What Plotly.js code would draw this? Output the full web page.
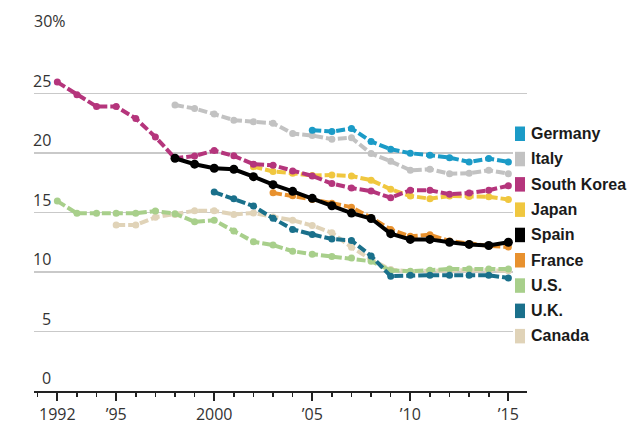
<!DOCTYPE html>
<html>
<head>
<meta charset="utf-8">
<script src="https://cdn.plot.ly/plotly-3.0.1.min.js"></script>
<style>html,body{margin:0;padding:0;background:#fff;}#chart{width:633px;height:446px;}</style>
</head>
<body>
<div id="chart"></div>
<script>
// ---- Data (% ) ----
const years = [1992,1993,1994,1995,1996,1997,1998,1999,2000,2001,2002,2003,2004,2005,2006,2007,2008,2009,2010,2011,2012,2013,2014,2015];

const southKoreaYears = years;
const southKorea = [25.96,24.9,23.9,23.9,22.9,21.35,19.56,19.75,20.2,19.76,19.06,18.97,18.49,18.07,17.43,17.05,16.8,16.24,16.87,16.87,16.53,16.64,16.87,17.25];

const spainYears = years.slice(6);
const spain = [19.56,19.06,18.72,18.63,18.01,17.34,16.78,16.19,15.57,14.95,14.5,13.22,12.74,12.74,12.5,12.32,12.23,12.5];

const franceYears = years.slice(11);
const france = [16.65,16.4,16.1,15.78,15.45,14.56,13.58,13.0,13.13,12.6,12.37,12.2,12.1];

const japanYears = years.slice(10);
const japan = [18.85,18.45,18.3,18.1,18.15,18.06,17.72,16.95,16.39,16.16,16.39,16.35,16.32,16.1];

const italyYears = years.slice(6);
const italy = [24.03,23.74,23.27,22.76,22.62,22.51,21.63,21.47,21.16,21.28,19.95,19.3,18.55,18.63,18.26,18.3,18.55,18.26];

const germanyYears = years.slice(13);
const germany = [21.92,21.8,22.06,20.96,20.32,19.98,19.81,19.61,19.25,19.53,19.25];

const ukYears = years.slice(8);
const uk = [16.72,16.16,15.54,14.51,13.58,13.16,12.77,12.65,11.35,9.65,9.73,9.73,9.73,9.73,9.73,9.5];

const usYears = years;
const us = [15.96,14.93,14.93,14.93,14.93,15.12,14.9,14.22,14.34,13.44,12.54,12.26,11.75,11.5,11.3,11.17,10.9,10.13,10.07,10.15,10.26,10.26,10.26,10.26];

const canadaYears = years.slice(3);
const canada = [13.94,13.94,14.6,14.84,15.15,15.15,14.84,14.95,14.62,14.35,13.9,13.3,12.08,11.05,10.2,10.05,10.1,10.15,10.15,10.15,10.1];

const xTickVals = [1992,1995,2000,2005,2010,2015];
const xTickText = ['1992','\u201995','2000','\u201905','\u201910','\u201915'];
const yTickVals = [0,5,10,15,20,25,30];
const yTickText = ['0','5','10','15','20','25','30%'];

const legendNames = ['Germany','Italy','South Korea','Japan','Spain','France','U.S.','U.K.','Canada'];
const colors = {
  'Germany':'#1b9bc7','Italy':'#c2c2c2','South Korea':'#b5357c','Japan':'#f0c73f',
  'Spain':'#000000','France':'#e8912e','U.S.':'#a8cf8b','U.K.':'#1a708b','Canada':'#e0d3b8'
};

// ---- Traces ----
function series(name, xs, ys, solid){
  return {
    type:'scatter', mode:'lines+markers', name:name, x:xs, y:ys,
    line:{color:colors[name], width:4, dash: solid ? 'solid' : '9px,3px'},
    marker:{color:colors[name], size: solid ? 9 : 7},
    hoverinfo:'skip', showlegend:false, cliponaxis:false
  };
}
const data = [
  series('Canada', canadaYears, canada),
  series('U.S.', usYears, us),
  series('U.K.', ukYears, uk),
  series('Italy', italyYears, italy),
  series('Germany', germanyYears, germany),
  series('Japan', japanYears, japan),
  series('France', franceYears, france),
  series('South Korea', southKoreaYears, southKorea),
  series('Spain', spainYears, spain, true)
];

// ---- Layout helpers (pixel -> paper) ----
const W = 633, H = 446, ML = 34, MR = 106, MT = 34, MB = 55;
const PW = W - ML - MR, PH = H - MT - MB;
const px = v => (v - ML) / PW;
const py = v => (H - MB - v) / PH;

const annotations = [];
yTickVals.forEach((v, i) => {
  const isTop = i === yTickVals.length - 1;
  annotations.push({
    xref:'paper', yref:'y', x: isTop ? px(32) : px(53), y: v,
    xanchor: isTop ? 'left' : 'right', yanchor:'bottom',
    text: yTickText[i], showarrow:false,
    font:{family:'Open Sans, sans-serif', size:16, color:'#333'}
  });
});

const shapes = [{
  type:'rect', xref:'paper', yref:'paper', layer:'above',
  x0:px(513), x1:px(633), y0:py(120), y1:py(348),
  fillcolor:'#ffffff', line:{width:0}
}];

legendNames.forEach((n, i) => {
  const cy = 133.5 + i * 25.3;
  shapes.push({
    type:'rect', xref:'paper', yref:'paper', layer:'above',
    x0:px(515), x1:px(525), y0:py(cy + 7.5), y1:py(cy - 7),
    fillcolor:colors[n], line:{width:0}
  });
  annotations.push({
    xref:'paper', yref:'paper', x:px(529), y:py(cy),
    xanchor:'left', yanchor:'middle', showarrow:false, text:n,
    font:{family:'Liberation Sans, Arial, sans-serif', size:16, color:'#1a1a1a', weight:'bold'}
  });
});

const layout = {
  width:W, height:H,
  margin:{l:ML, r:MR, t:MT, b:MB, pad:0},
  paper_bgcolor:'#ffffff', plot_bgcolor:'#ffffff',
  showlegend:false,
  xaxis:{
    range:[1990.81, 2015.95], showgrid:false, zeroline:false,
    showline:true, linecolor:'#222', linewidth:2,
    tickmode:'array', tickvals:xTickVals, ticktext:xTickText,
    ticks:'outside', ticklen:8, tickwidth:2, tickcolor:'#222',
    minor:{tick0:1992, dtick:1, ticks:'outside', ticklen:4, tickwidth:1.5, tickcolor:'#222'},
    tickfont:{family:'Open Sans, sans-serif', size:16, color:'#333'},
    fixedrange:true
  },
  yaxis:{
    range:[0,30], showgrid:true, gridcolor:'#c9c9c9', gridwidth:1.5,
    tickmode:'array', tickvals:yTickVals, showticklabels:false, ticks:'',
    zeroline:false, showline:false, fixedrange:true
  },
  shapes:shapes,
  annotations:annotations
};

Plotly.newPlot('chart', data, layout, {staticPlot:true, displayModeBar:false});
</script>
</body>
</html>
